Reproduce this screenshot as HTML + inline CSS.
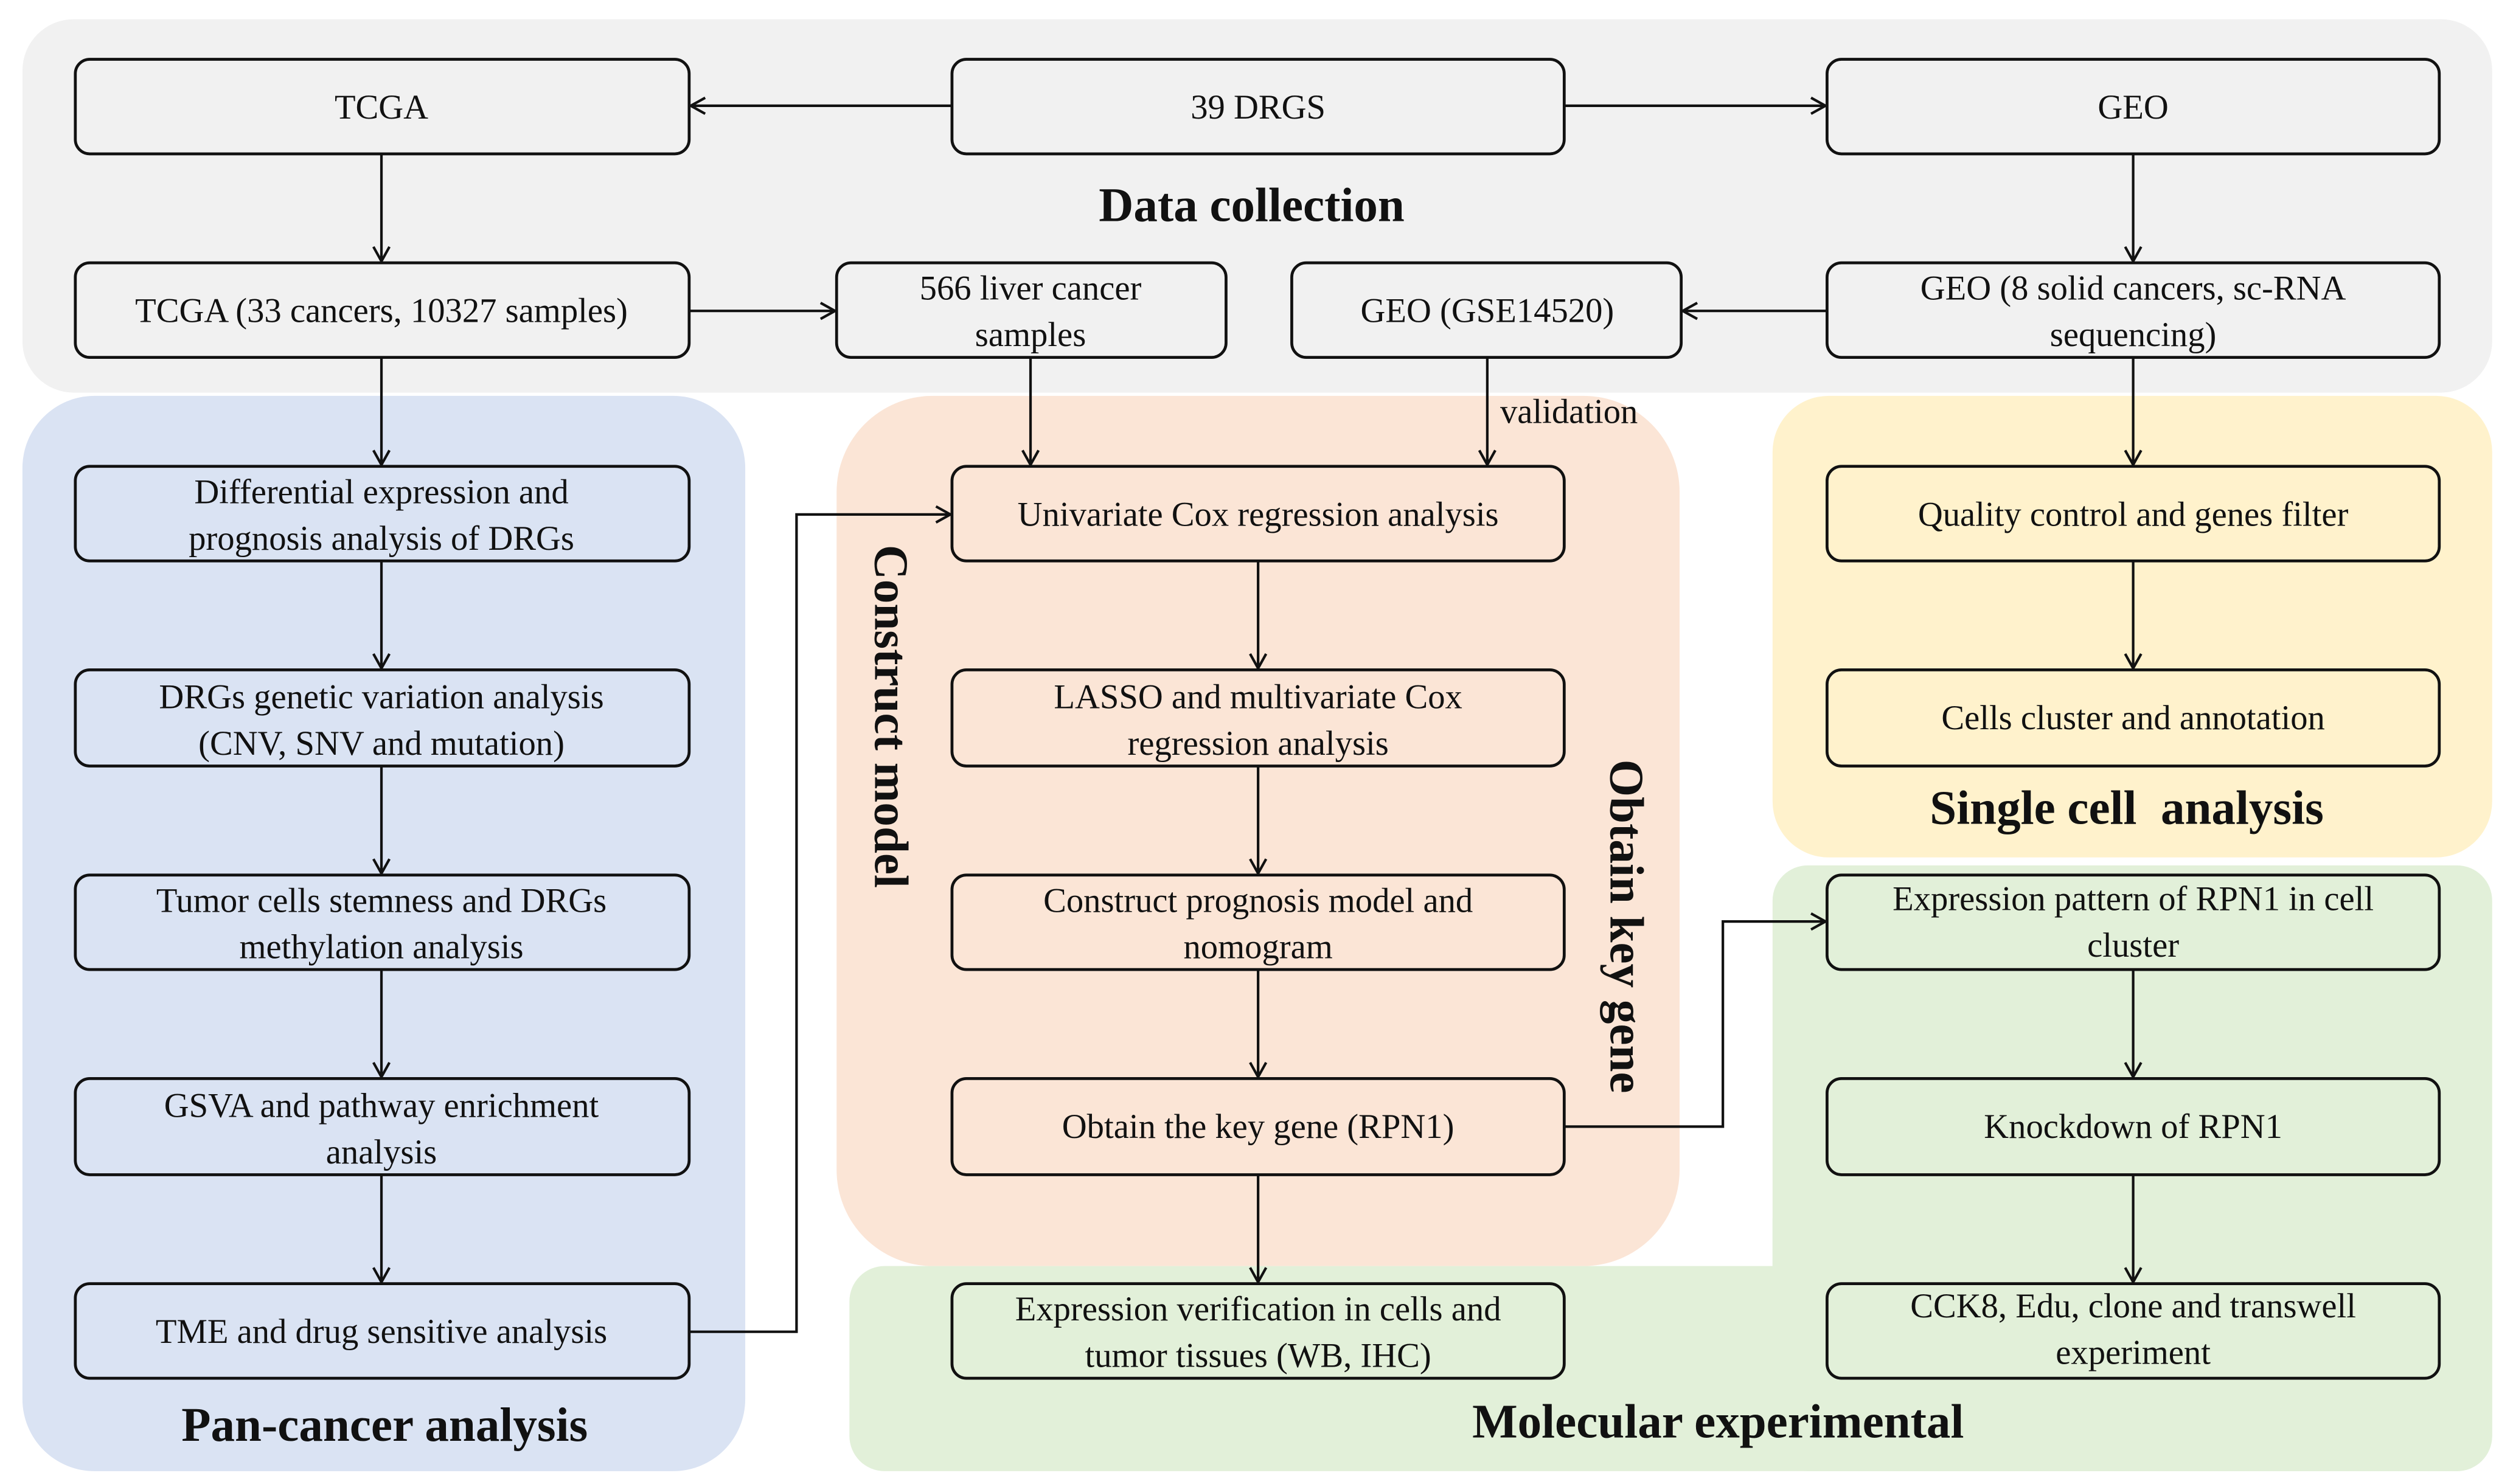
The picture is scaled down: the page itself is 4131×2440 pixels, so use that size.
<!DOCTYPE html>
<html><head><meta charset="utf-8"><style>
html,body{margin:0;padding:0;background:#fff;}
svg{display:block;}
text{font-family:"Liberation Serif","Times New Roman",Times,serif;fill:#111;}
.b{font-size:21.5px;text-anchor:middle;font-family:"Liberation Serif","Times New Roman",Times,serif;font-weight:normal;}
.t{font-size:30px;font-weight:bold;text-anchor:middle;}
</style></head><body>
<svg width="4131" height="2440" viewBox="0 0 1568 926" preserveAspectRatio="none" xmlns="http://www.w3.org/2000/svg" font-family="Liberation Serif, Times New Roman, serif">
<defs><marker id="a" markerWidth="12" markerHeight="12" refX="10" refY="6" orient="auto" markerUnits="userSpaceOnUse"><path d="M1,1 L10,6 L1,11" fill="none" stroke="#111" stroke-width="1.6"/></marker></defs>
<rect x="14" y="12" width="1541" height="233" rx="32" fill="#f1f1f1"/>
<rect x="14" y="247" width="451" height="671" rx="45" fill="#dae3f3"/>
<rect x="522" y="247" width="526" height="543" rx="60" fill="#fbe5d6"/>
<rect x="1106" y="247" width="449" height="288" rx="35" fill="#fff2cc"/>
<rect x="530" y="790" width="1025" height="128" rx="22" fill="#e2f0d9"/>
<rect x="1106" y="540" width="449" height="378" rx="22" fill="#e2f0d9"/>
<rect x="1106" y="760" width="100" height="50" fill="#e2f0d9"/>
<g fill="none" stroke="#111" stroke-width="1.8">
<rect x="47" y="37" width="383" height="59" rx="9"/>
<rect x="594" y="37" width="382" height="59" rx="9"/>
<rect x="1140" y="37" width="382" height="59" rx="9"/>
<rect x="47" y="164" width="383" height="59" rx="9"/>
<rect x="522" y="164" width="243" height="59" rx="9"/>
<rect x="806" y="164" width="243" height="59" rx="9"/>
<rect x="1140" y="164" width="382" height="59" rx="9"/>
<rect x="47" y="291" width="383" height="59" rx="9"/>
<rect x="47" y="418" width="383" height="60" rx="9"/>
<rect x="47" y="546" width="383" height="59" rx="9"/>
<rect x="47" y="673" width="383" height="60" rx="9"/>
<rect x="47" y="801" width="383" height="59" rx="9"/>
<rect x="594" y="291" width="382" height="59" rx="9"/>
<rect x="594" y="418" width="382" height="60" rx="9"/>
<rect x="594" y="546" width="382" height="59" rx="9"/>
<rect x="594" y="673" width="382" height="60" rx="9"/>
<rect x="594" y="801" width="382" height="59" rx="9"/>
<rect x="1140" y="291" width="382" height="59" rx="9"/>
<rect x="1140" y="418" width="382" height="60" rx="9"/>
<rect x="1140" y="546" width="382" height="59" rx="9"/>
<rect x="1140" y="673" width="382" height="60" rx="9"/>
<rect x="1140" y="801" width="382" height="59" rx="9"/>
</g>
<g stroke="#111" stroke-width="1.6" fill="none" marker-end="url(#a)">
<line x1="594" y1="66" x2="431" y2="66"/>
<line x1="976" y1="66" x2="1139" y2="66"/>
<line x1="238" y1="96" x2="238" y2="163"/>
<line x1="1331" y1="96" x2="1331" y2="163"/>
<line x1="430" y1="194" x2="521" y2="194"/>
<line x1="1140" y1="194" x2="1050" y2="194"/>
<line x1="238" y1="223" x2="238" y2="290"/>
<line x1="643" y1="223" x2="643" y2="290"/>
<line x1="928" y1="223" x2="928" y2="290"/>
<line x1="1331" y1="223" x2="1331" y2="290"/>
<line x1="238" y1="350" x2="238" y2="417"/>
<line x1="238" y1="478" x2="238" y2="545"/>
<line x1="238" y1="605" x2="238" y2="672"/>
<line x1="238" y1="733" x2="238" y2="800"/>
<line x1="785" y1="350" x2="785" y2="417"/>
<line x1="785" y1="478" x2="785" y2="545"/>
<line x1="785" y1="605" x2="785" y2="672"/>
<line x1="785" y1="733" x2="785" y2="800"/>
<line x1="1331" y1="350" x2="1331" y2="417"/>
<line x1="1331" y1="605" x2="1331" y2="672"/>
<line x1="1331" y1="733" x2="1331" y2="800"/>
<polyline points="430,831 497,831 497,321 593,321"/>
<polyline points="976,703 1075,703 1075,575 1139,575"/>
</g>
<text class="b" x="238" y="74">TCGA</text>
<text class="b" x="785" y="74">39 DRGS</text>
<text class="b" x="1331" y="74">GEO</text>
<text class="b" x="238" y="201">TCGA (33 cancers, 10327 samples)</text>
<text class="b" x="643" y="187">566 liver cancer</text>
<text class="b" x="643" y="216">samples</text>
<text class="b" x="928" y="201">GEO (GSE14520)</text>
<text class="b" x="1331" y="187">GEO (8 solid cancers, sc-RNA</text>
<text class="b" x="1331" y="216">sequencing)</text>
<text x="936" y="264" style="font-size:21.5px;text-anchor:start">validation</text>
<text class="b" x="238" y="314">Differential expression and</text>
<text class="b" x="238" y="343">prognosis analysis of DRGs</text>
<text class="b" x="238" y="442">DRGs genetic variation analysis</text>
<text class="b" x="238" y="471">(CNV, SNV and mutation)</text>
<text class="b" x="238" y="569">Tumor cells stemness and DRGs</text>
<text class="b" x="238" y="598">methylation analysis</text>
<text class="b" x="238" y="697">GSVA and pathway enrichment</text>
<text class="b" x="238" y="726">analysis</text>
<text class="b" x="238" y="838">TME and drug sensitive analysis</text>
<text class="b" x="785" y="328">Univariate Cox regression analysis</text>
<text class="b" x="785" y="442">LASSO and multivariate Cox</text>
<text class="b" x="785" y="471">regression analysis</text>
<text class="b" x="785" y="569">Construct prognosis model and</text>
<text class="b" x="785" y="598">nomogram</text>
<text class="b" x="785" y="710">Obtain the key gene (RPN1)</text>
<text class="b" x="785" y="824">Expression verification in cells and</text>
<text class="b" x="785" y="853">tumor tissues (WB, IHC)</text>
<text class="b" x="1331" y="328">Quality control and genes filter</text>
<text class="b" x="1331" y="455">Cells cluster and annotation</text>
<text class="b" x="1331" y="568">Expression pattern of RPN1 in cell</text>
<text class="b" x="1331" y="597">cluster</text>
<text class="b" x="1331" y="710">Knockdown of RPN1</text>
<text class="b" x="1331" y="822">CCK8, Edu, clone and transwell</text>
<text class="b" x="1331" y="851">experiment</text>
<text class="t" x="781" y="138">Data collection</text>
<text class="t" x="240" y="899">Pan-cancer analysis</text>
<text class="t" x="1072" y="897">Molecular experimental</text>
<text class="t" x="1327" y="514" xml:space="preserve">Single cell  analysis</text>
<text class="t" transform="translate(546,447) rotate(90)">Construct model</text>
<text class="t" transform="translate(1005,578) rotate(90)">Obtain key gene</text>
</svg>
</body></html>
